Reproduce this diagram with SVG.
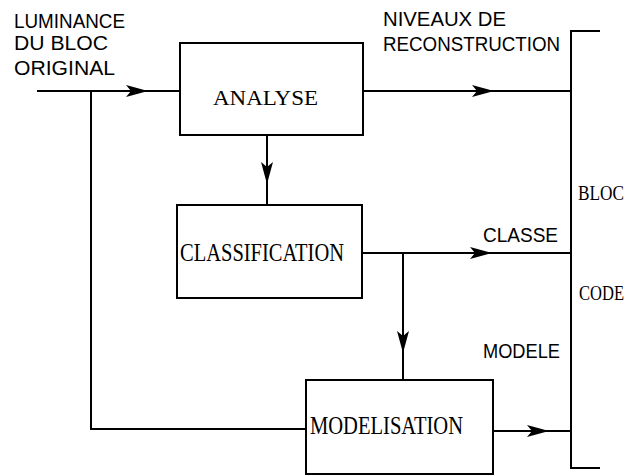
<svg xmlns="http://www.w3.org/2000/svg" width="635" height="476" viewBox="0 0 635 476">
<style>
.box{fill:#fff;stroke:#000;stroke-width:2}
.ln{fill:none;stroke:#000;stroke-width:2;marker-mid:url(#ah)}
.bus{fill:none;stroke:#000;stroke-width:2}
.ser{font-family:"Liberation Serif","Times New Roman",serif;fill:#000}
.mono{font-family:"Liberation Sans Narrow","Liberation Sans",Arial,sans-serif;font-weight:normal;fill:#000;font-size:20px}
</style>
<defs>
<marker id="ah" viewBox="0 0 22 12" refX="22" refY="6" markerWidth="22" markerHeight="12" markerUnits="userSpaceOnUse" orient="auto">
<path d="M0,0 L22,6 L0,12 L5,6 z" fill="#000"/>
</marker>
</defs>
<rect width="635" height="476" fill="#fff"/>
<g id="connectors">
<path class="ln" d="M37 91 L148 91 L180 91"/>
<path class="bus" d="M91 91 L91 429 L306 429"/>
<path class="ln" d="M267 135 L267 184 L267 205"/>
<path class="ln" d="M363 91 L494 91 L571 91"/>
<path class="ln" d="M362 253 L492 253 L571 253"/>
<path class="ln" d="M403 253 L403 353 L403 380"/>
<path class="ln" d="M493 431 L549 431 L571 431"/>
<path class="bus" d="M600 31 L571 31 L571 468 L600 468"/>
</g>
<g id="analyse">
<rect class="box" x="180" y="43" width="183" height="92"/>
<text class="ser" x="213" y="105" font-size="21" textLength="105" lengthAdjust="spacingAndGlyphs">ANALYSE</text>
</g>
<g id="classification">
<rect class="box" x="177" y="205" width="185" height="93"/>
<text class="ser" x="180" y="261" font-size="26" textLength="164" lengthAdjust="spacingAndGlyphs">CLASSIFICATION</text>
</g>
<g id="modelisation">
<rect class="box" x="306" y="380" width="187" height="94"/>
<text class="ser" x="310" y="434" font-size="25" textLength="153" lengthAdjust="spacingAndGlyphs">MODELISATION</text>
</g>
<g id="labels">
<text class="mono" x="14" y="28" textLength="111" lengthAdjust="spacingAndGlyphs">LUMINANCE</text>
<text class="mono" x="14" y="50" textLength="94" lengthAdjust="spacingAndGlyphs">DU BLOC</text>
<text class="mono" x="14" y="75" textLength="101" lengthAdjust="spacingAndGlyphs">ORIGINAL</text>
<text class="mono" x="383" y="26" textLength="123" lengthAdjust="spacingAndGlyphs">NIVEAUX DE</text>
<text class="mono" x="383" y="51" textLength="177" lengthAdjust="spacingAndGlyphs">RECONSTRUCTION</text>
<text class="mono" x="483" y="242" textLength="75" lengthAdjust="spacingAndGlyphs">CLASSE</text>
<text class="mono" x="483" y="358" textLength="77" lengthAdjust="spacingAndGlyphs">MODELE</text>
<text class="ser" x="578" y="200" font-size="21" textLength="46" lengthAdjust="spacingAndGlyphs">BLOC</text>
<text class="ser" x="579" y="300" font-size="21" textLength="45" lengthAdjust="spacingAndGlyphs">CODE</text>
</g>
</svg>
